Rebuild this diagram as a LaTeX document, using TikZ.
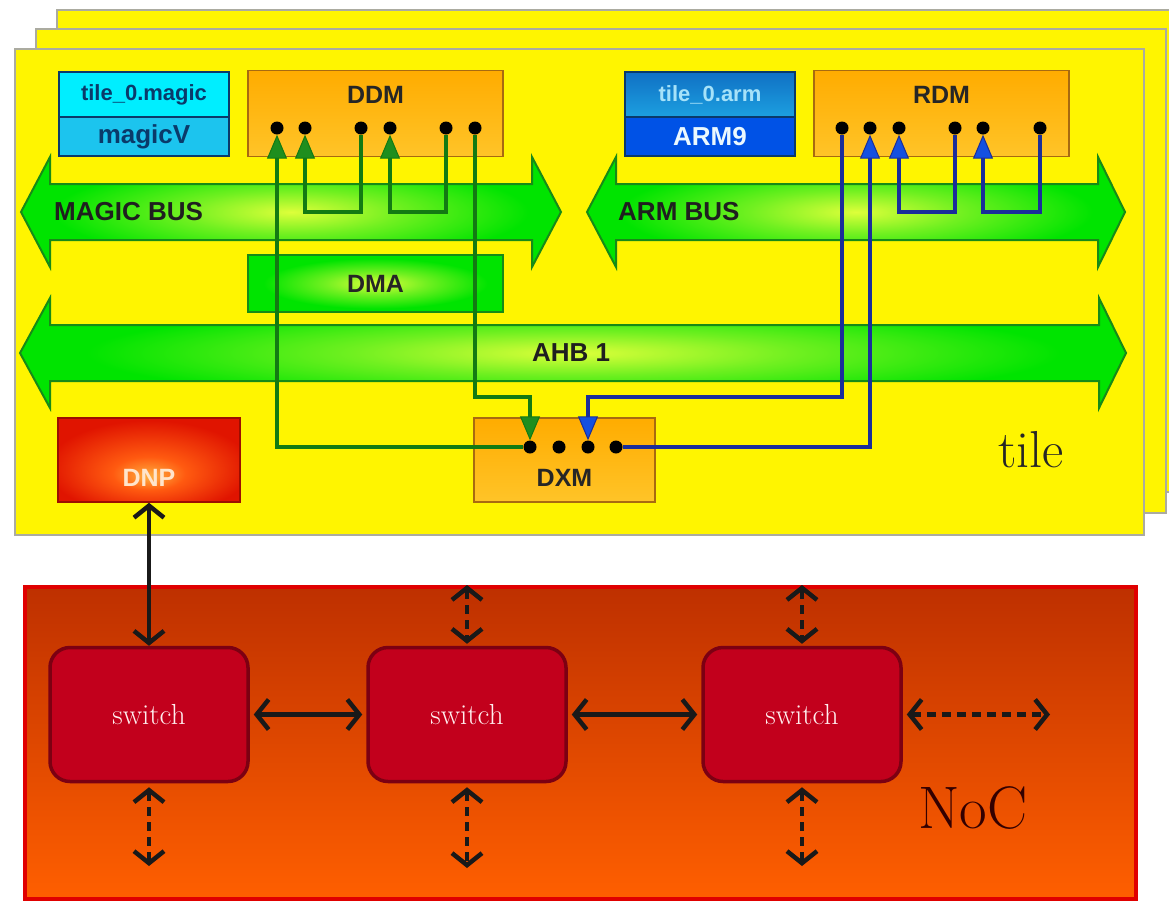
\documentclass[tikz,border=0pt]{standalone}
\usepackage{fontspec}
\newfontfamily\sansb{Liberation Sans}
\usetikzlibrary{arrows.meta,calc}
\definecolor{tileY}{HTML}{FFF500}
\definecolor{tileB}{HTML}{ABABA0}
\definecolor{busG}{HTML}{00E400}
\definecolor{busM}{HTML}{70F020}
\definecolor{busL}{HTML}{DDFF3A}
\definecolor{busD}{HTML}{178A17}
\definecolor{orgF}{HTML}{FFAC00}
\definecolor{orgL}{HTML}{FFC428}
\definecolor{orgD}{HTML}{A86A10}
\definecolor{wireG}{HTML}{137A13}
\definecolor{tipG}{HTML}{1E8E1E}
\definecolor{wireB}{HTML}{1A2E9A}
\definecolor{tipB}{HTML}{1450E0}
\definecolor{cyanT}{HTML}{00EEFF}
\definecolor{cyanB}{HTML}{1CC4EE}
\definecolor{armT}{HTML}{1070C4}
\definecolor{armTb}{HTML}{1CA0E0}
\definecolor{armB}{HTML}{0052E6}
\definecolor{boxD}{HTML}{0A3A6A}
\definecolor{nocTop}{HTML}{BE3000}
\definecolor{nocBot}{HTML}{FF5F00}
\definecolor{nocD}{HTML}{E00000}
\definecolor{swF}{HTML}{C2001C}
\definecolor{swD}{HTML}{7C0012}
\definecolor{dnpO}{HTML}{E01400}
\definecolor{dnpM}{HTML}{FF5A10}
\definecolor{dnpI}{HTML}{FFB040}
\pgfdeclareradialshading{busglow}{\pgfpoint{0bp}{0bp}}{color(0bp)=(busL); color(10bp)=(busM); color(22bp)=(busG); color(50bp)=(busG)}
\pgfdeclareradialshading{dnpglow}{\pgfpoint{0bp}{-10bp}}{color(0bp)=(dnpI); color(10bp)=(dnpM); color(28bp)=(dnpO); color(50bp)=(dnpO)}
\newcommand\myfs[1]{\fontsize{#1}{#1}\selectfont}
\begin{document}
\begin{tikzpicture}[x=1pt,y=-1pt,
  tilebox/.style={fill=tileY, draw=tileB, line width=2.5pt},
  busshape/.style={draw=busD, line width=2pt, shading=busglow},
  buslabel/.style={font=\sansb\bfseries\myfs{26}, text=black!88, inner sep=0pt},
  modbox/.style={draw=orgD, line width=1.5pt, top color=orgF, bottom color=orgL, minimum width=255pt, minimum height=86pt, inner sep=0pt},
  modlabel/.style={font=\sansb\bfseries\myfs{25}, text=black!85, inner sep=0pt},
  dot/.style={circle, fill=black, minimum size=13pt, inner sep=0pt},
  gwire/.style={draw=wireG, line width=3.5pt, -{Triangle[length=24pt,width=20pt,fill=tipG,line width=1pt]}},
  bwire/.style={draw=wireB, line width=3.5pt, -{Triangle[length=24pt,width=20pt,fill=tipB,line width=1pt]}},
  procbox/.style={draw=boxD, line width=1.5pt, minimum width=170pt, inner sep=0pt},
  nocarrow/.style={draw=black!90, line width=4.5pt, {Straight Barb[length=12pt,width=30pt]}-{Straight Barb[length=12pt,width=30pt]}},
  nocdash/.style={nocarrow, dash pattern=on 9pt off 6pt},
  switchbox/.style={fill=swF, draw=swD, line width=3.5pt, rounded corners=20pt, minimum width=198pt, minimum height=134pt, font=\rmfamily\myfs{29}, text=pink!25}
]
\useasboundingbox (0,0) rectangle (1169,903);
\fill[white] (0,0) rectangle (1169,903);
% stacked tiles
\filldraw[tilebox] (57,10) rectangle (1195,492);
\filldraw[tilebox] (36,29) rectangle (1166,513);
\filldraw[tilebox] (15,49) rectangle (1144,535);
% buses
\path[busshape] (21,212) -- (50,157) -- (50,184) -- (532,184) -- (532,157) -- (561,212) -- (532,267) -- (532,240) -- (50,240) -- (50,267) -- cycle;
\path[busshape] (587,212) -- (616,157) -- (616,184) -- (1098,184) -- (1098,157) -- (1125,212) -- (1098,267) -- (1098,240) -- (616,240) -- (616,267) -- cycle;
\path[busshape] (20,353) -- (50,298) -- (50,325) -- (1099,325) -- (1099,298) -- (1126,353) -- (1099,408) -- (1099,381) -- (50,381) -- (50,408) -- cycle;
\node[buslabel, anchor=west] (magicbus) at (54,212) {MAGIC BUS};
\node[buslabel, anchor=west] (armbus) at (618,212) {ARM BUS};
\node[buslabel] (ahb) at (571,353) {AHB 1};
\coordinate (jog) at (300,212);
\coordinate (turn) at (500,397);
% DMA
\node[draw=busD, line width=2pt, shading=busglow, minimum width=255pt, minimum height=57pt, font=\sansb\bfseries\myfs{25}, text=black!85] (dma) at (375.5,283.5) {DMA};
% processors
\node[procbox, fill=cyanT, minimum height=45pt, font=\sansb\bfseries\myfs{22}, text=boxD] (magictop) at (144,94.5) {tile\_0.magic};
\node[procbox, fill=cyanB, minimum height=39pt, font=\sansb\bfseries\myfs{26}, text=boxD] (magicv) at (144,136.5) {magicV};
\node[procbox, top color=armT, bottom color=armTb, minimum height=45pt, font=\sansb\bfseries\myfs{22}, text=cyan!35] (armtop) at (710,94.5) {tile\_0.arm};
\node[procbox, fill=armB, minimum height=39pt, font=\sansb\bfseries\myfs{26}, text=white!92!cyan] (arm9) at (710,136.5) {ARM9};
% memory modules
\node[modbox] (ddm) at (375.5,113.5) {};
\node[modlabel] (ddml) at (375.5,95) {DDM};
\node[modbox] (rdm) at (941.5,113.5) {};
\node[modlabel] (rdml) at (941.5,95) {RDM};
\node[modbox, minimum width=181pt, minimum height=84pt] (dxm) at (564.5,460) {};
\node[modlabel] (dxml) at (564.5,478) {DXM};
% DNP
\node[draw=dnpO!70!black, line width=1.5pt, shading=dnpglow, minimum width=182pt, minimum height=84pt] (dnp) at (149,460) {};
\node[font=\sansb\bfseries\myfs{25}, text=orange!20, inner sep=0pt] (dnpl) at (149,478) {DNP};
% dots
\foreach \n/\x in {1/277,2/305,3/361,4/390,5/446,6/475} \node[dot] (d\n) at (\x,128) {};
\foreach \n/\x in {1/842,2/870,3/899,4/955,5/983,6/1040} \node[dot] (r\n) at (\x,128) {};
\foreach \n/\x in {1/530,2/559,3/588,4/616} \node[dot] (x\n) at (\x,447) {};
% green wires
\draw[gwire] (d3) -- (d3 |- jog) -| (d2);
\draw[gwire] (d5) -- (d5 |- jog) -| (d4);
\draw[gwire] (d6) -- (d6 |- turn) -| (x1);
\draw[gwire] (x1) -| (d1);
% blue wires
\draw[bwire] (r1) -- (r1 |- turn) -| (x3);
\draw[bwire] (x4) -| (r2);
\draw[bwire] (r4) -- (r4 |- jog) -| (r3);
\draw[bwire] (r6) -- (r6 |- jog) -| (r5);
% tile label
\node[anchor=base west, font=\rmfamily\myfs{52}, text=black!85, inner sep=0pt] (tilelbl) at (998,467) {tile};
% NoC
\draw[draw=nocD, line width=4pt, top color=nocTop, bottom color=nocBot] (25,587) rectangle (1136,899);
\node[anchor=base west, font=\rmfamily\myfs{60}, text=black!80!red, inner sep=0pt] (noclbl) at (918,828) {NoC};
\node[switchbox] (sw1) at (149,714.5) {switch};
\node[switchbox] (sw2) at (467,714.5) {switch};
\node[switchbox] (sw3) at (802,714.5) {switch};
\coordinate (t2) at (467,585);
\coordinate (t3) at (802,585);
\coordinate (b1) at (149,866);
\coordinate (b2) at (467,868);
\coordinate (b3) at (802,866);
\coordinate (e3) at (1050,714.5);
\draw[nocarrow] (dnp) -- (sw1);
\draw[nocarrow, shorten <=4pt, shorten >=4pt] (sw1) -- (sw2);
\draw[nocarrow, shorten <=4pt, shorten >=4pt] (sw2) -- (sw3);
\draw[nocdash, shorten <=4pt] (sw3) -- (e3);
\draw[nocdash, shorten >=2pt] (t2) -- (sw2);
\draw[nocdash, shorten >=2pt] (t3) -- (sw3);
\draw[nocdash, shorten <=4pt] (sw1) -- (b1);
\draw[nocdash, shorten <=4pt] (sw2) -- (b2);
\draw[nocdash, shorten <=4pt] (sw3) -- (b3);
\end{tikzpicture}
\end{document}
